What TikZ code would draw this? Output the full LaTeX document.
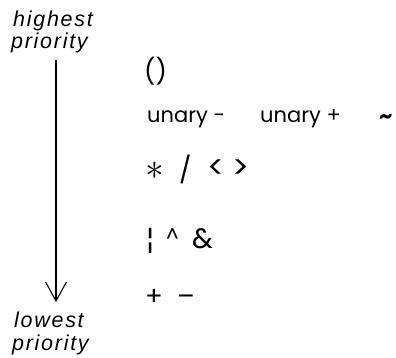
\documentclass[tikz,border=0pt]{standalone}
\usepackage{fontspec}
\usepackage{graphicx}
\setmainfont{Poppins}
\newfontfamily\lblfont[LetterSpace=8]{Liberation Sans}
\usetikzlibrary{arrows.meta}
\begin{document}
\begin{tikzpicture}[x=1pt,y=-1pt,
  lbl/.style={font=\lblfont\itshape\fontsize{21.5}{21.5}\selectfont, anchor=base west, inner sep=0pt},
  op/.style={font=\fontsize{21}{21}\selectfont, anchor=base west, inner sep=0pt},
  bigop/.style={op, font=\fontsize{26}{26}\selectfont},
  prio/.style={line width=1.1pt, -{Straight Barb[length=19pt, width=21pt, line width=1.1pt]}}]
\useasboundingbox (0,0) rectangle (396,358);
% left labels
\node[lbl] (h1) at (13,27) {highest};
\node[lbl] (h2) at (11,49) {priority};
\node[lbl] (l1) at (14,327) {lowest};
\node[lbl] (l2) at (12,350) {priority};
\coordinate (atop) at (56,60);
\coordinate (abot) at (56,302);
\draw[prio] (atop) -- (abot);
% operators
\node[op, font=\fontsize{25}{25}\selectfont] (par) at (144,81) {()};
\node[op] (um) at (147,123) {unary -};
\node[op] (up) at (260,123) {unary +};
\node[op] (tl) at (379,124) {\textbf{\char"007E}};
\node[op] (mul) at (145,180) {\scalebox{1.8}{$\ast$}};
\node[bigop] (dv) at (179,180) {/};
\node[op] (lt) at (207,179) {\scalebox{1.5}{<}};
\node[op] (gt) at (232,179) {\scalebox{1.5}{>}};
\node[op, font=\fontsize{28}{28}\selectfont] (bar) at (146,250) {¦};
\node[op, font=\fontsize{20}{20}\selectfont] (car) at (166,242) {\char"005E};
\node[op, font=\fontsize{28}{28}\selectfont] (amp) at (192,248) {\&};
\node[bigop] (pl) at (145,305) {+};
\node[bigop] (mi) at (177,305) {–};
\end{tikzpicture}
\end{document}
